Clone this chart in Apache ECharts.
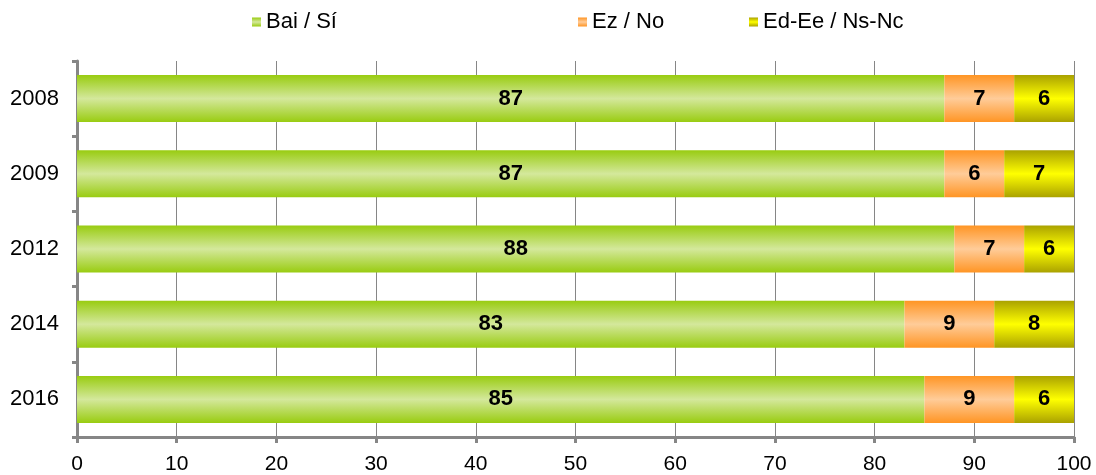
<!DOCTYPE html>
<html>
<head>
<meta charset="utf-8">
<script src="https://cdn.jsdelivr.net/npm/echarts@6/dist/echarts.min.js"></script>
<style>
html,body{margin:0;padding:0;background:#fff;}
#chart{width:1096px;height:475px;}
</style>
</head>
<body>
<div id="chart"></div>
<script>
const years = ['2008', '2009', '2012', '2014', '2016'];
const bai = [87, 87, 88, 83, 85];
const ez = [7, 6, 7, 9, 9];
const edee = [6, 7, 6, 8, 6];
const seriesNames = ['Bai / Sí', 'Ez / No', 'Ed-Ee / Ns-Nc'];
const xTicks = [0, 10, 20, 30, 40, 50, 60, 70, 80, 90, 100];

function grad(edge, mid) {
  return new echarts.graphic.LinearGradient(0, 0, 0, 1, [
    {offset: 0, color: edge},
    {offset: 0.5, color: mid},
    {offset: 1, color: edge}
  ]);
}
const fills = [
  grad('#99cc11', '#d4e89c'),
  grad('#ff9524', '#ffcc99'),
  grad('#aaa200', '#ffff00')
];
const FONT = '"Liberation Sans", Arial, sans-serif';
const legendLefts = [252, 578, 749];

function mk(name, data, fill) {
  return {
    name: name,
    type: 'bar',
    stack: 'total',
    data: data,
    barWidth: 47,
    itemStyle: {color: fill},
    label: {
      show: true,
      position: 'inside',
      color: '#000',
      fontFamily: FONT,
      fontWeight: 'bold',
      fontSize: 22
    },
    emphasis: {disabled: true}
  };
}

const chart = echarts.init(document.getElementById('chart'), null, {renderer: 'canvas'});
chart.setOption({
  animation: false,
  backgroundColor: '#fff',
  legend: seriesNames.map((n, i) => ({
    top: 11,
    left: legendLefts[i],
    padding: 0,
    itemWidth: 9,
    itemHeight: 9,
    itemGap: 6,
    icon: 'rect',
    textStyle: {fontFamily: FONT, fontSize: 22, lineHeight: 22, color: '#000'},
    data: [{name: n, itemStyle: {color: fills[i]}}]
  })),
  grid: {left: 77, right: 22, top: 61, bottom: 38, containLabel: false},
  xAxis: {
    type: 'value',
    min: xTicks[0],
    max: xTicks[xTicks.length - 1],
    interval: 10,
    axisLine: {show: true, lineStyle: {color: '#868686', width: 3}},
    axisTick: {show: true, length: 6, lineStyle: {color: '#868686', width: 3}},
    axisLabel: {fontFamily: FONT, fontSize: 21, color: '#000', margin: 17},
    splitLine: {show: true, lineStyle: {color: '#868686', width: 1}}
  },
  yAxis: {
    type: 'category',
    inverse: true,
    data: years,
    axisLine: {show: true, lineStyle: {color: '#868686', width: 3}},
    axisTick: {show: true, length: 5, alignWithLabel: false, lineStyle: {color: '#868686', width: 3}},
    axisLabel: {fontFamily: FONT, fontSize: 22, color: '#000', margin: 18}
  },
  series: [
    mk(seriesNames[0], bai, fills[0]),
    mk(seriesNames[1], ez, fills[1]),
    mk(seriesNames[2], edee, fills[2])
  ]
});
</script>
</body>
</html>
